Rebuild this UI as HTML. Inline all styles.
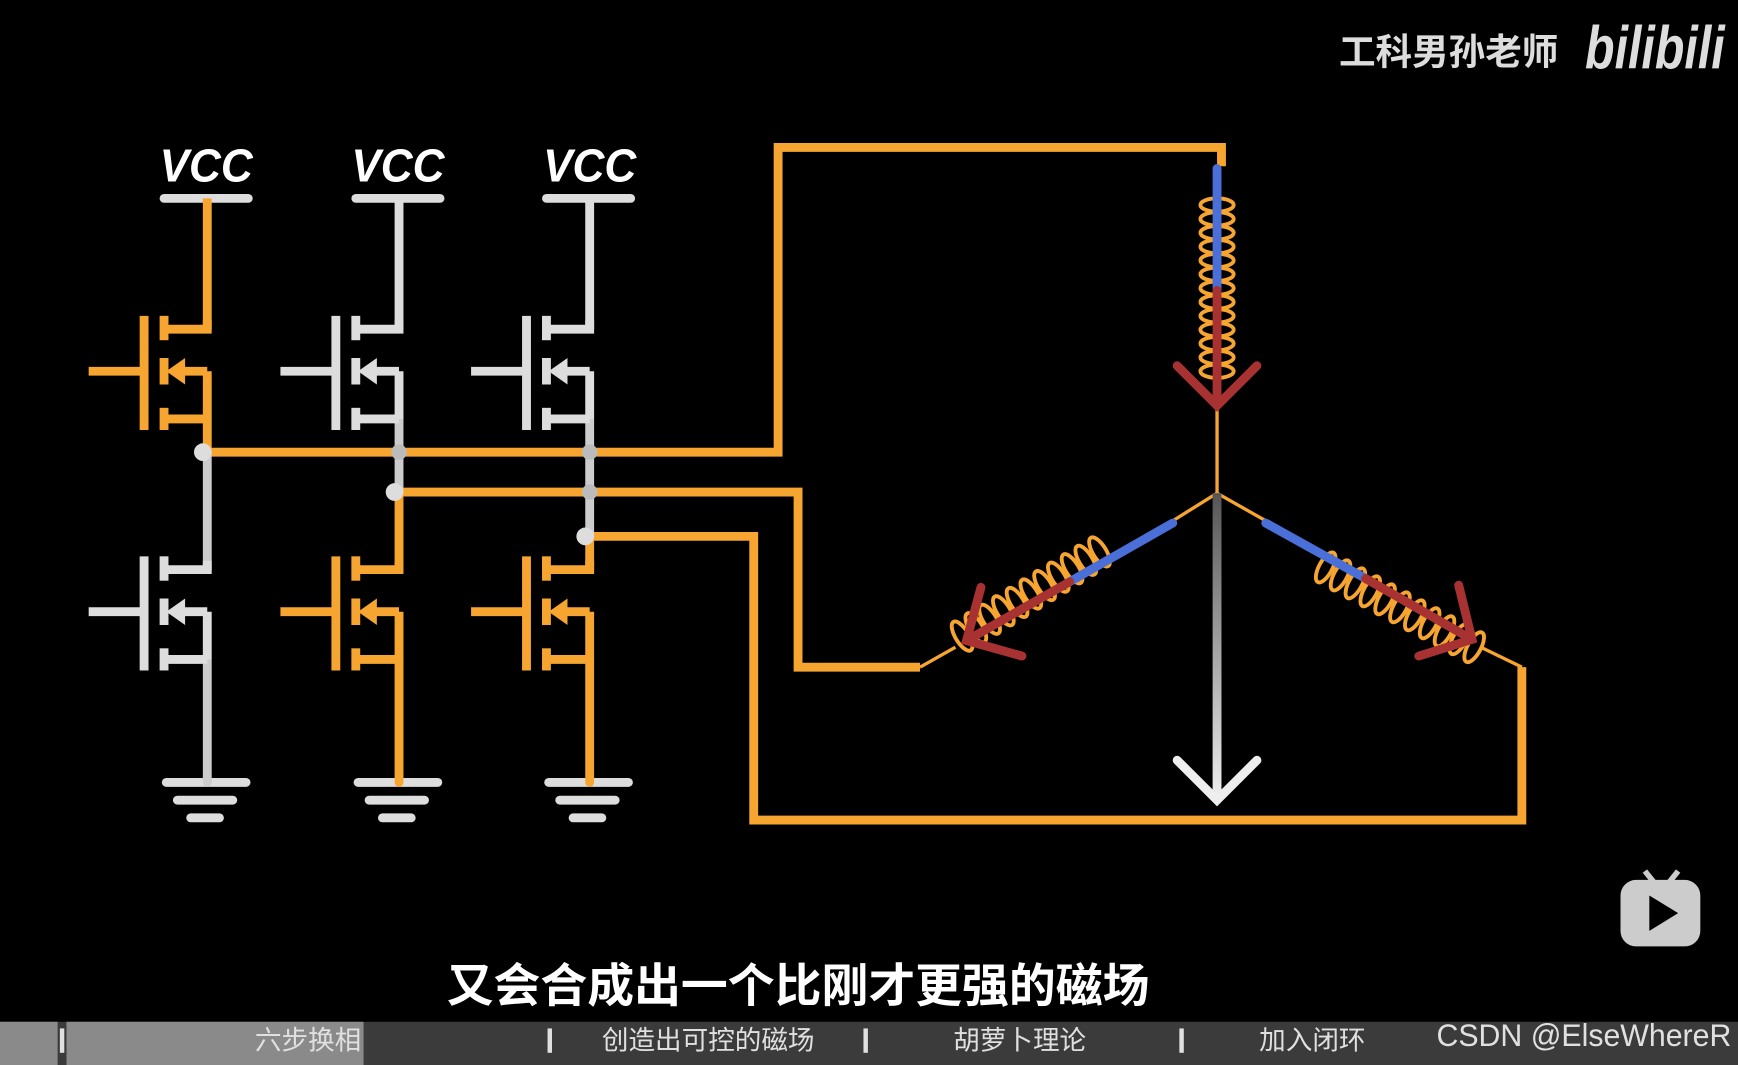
<!DOCTYPE html>
<html><head><meta charset="utf-8"><style>
html,body{margin:0;padding:0;background:#000;width:1738px;height:1065px;overflow:hidden}
svg{display:block}
</style></head><body>
<svg id="s" width="1738" height="1065" viewBox="0 0 1568 961" preserveAspectRatio="none" xmlns="http://www.w3.org/2000/svg">
<defs>
<linearGradient id="gv" gradientUnits="userSpaceOnUse" x1="0" y1="445" x2="0" y2="720"><stop offset="0" stop-color="#555"/><stop offset="1" stop-color="#eee"/></linearGradient>
</defs>
<rect width="1568" height="961" fill="#000"/>
<g font-family="Liberation Sans, sans-serif" font-weight="bold" font-style="italic" font-size="42" fill="#fff" text-anchor="middle">
<text x="186" y="164" textLength="84" lengthAdjust="spacingAndGlyphs">VCC</text><text x="359" y="164" textLength="84" lengthAdjust="spacingAndGlyphs">VCC</text><text x="532" y="164" textLength="84" lengthAdjust="spacingAndGlyphs">VCC</text>
</g>
<g stroke-width="8" stroke-linecap="round" fill="none">
<line x1="148" y1="179" x2="224" y2="179" stroke="#ddd"/>
<line x1="321" y1="179" x2="397" y2="179" stroke="#ddd"/>
<line x1="493" y1="179" x2="569" y2="179" stroke="#ddd"/>
<polyline points="187,408 702,408 702,133 1102,133 1102,150" stroke="#f7a531" stroke-linecap="butt"/>
<polyline points="360,444 720,444 720,602 830,602" stroke="#f7a531" stroke-linecap="butt"/>
<polyline points="532,484 680,484 680,740 1373,740 1373,602" stroke="#f7a531" stroke-linecap="butt"/>
<line x1="187" y1="378" x2="187" y2="408" stroke="#f7a531"/>
<line x1="187" y1="408" x2="187" y2="514" stroke="#ccc"/>
<line x1="360" y1="378" x2="360" y2="444" stroke="#ccc"/>
<line x1="360" y1="444" x2="360" y2="514" stroke="#f7a531"/>
<line x1="532" y1="378" x2="532" y2="484" stroke="#ccc"/>
<line x1="532" y1="484" x2="532" y2="514" stroke="#f7a531"/>
<g stroke="#ddd">
<line x1="150" y1="706" x2="222" y2="706"/><line x1="160" y1="722" x2="210" y2="722"/><line x1="172" y1="738" x2="198" y2="738"/>
<line x1="323" y1="706" x2="395" y2="706"/><line x1="333" y1="722" x2="383" y2="722"/><line x1="345" y1="738" x2="371" y2="738"/>
<line x1="495" y1="706" x2="567" y2="706"/><line x1="505" y1="722" x2="555" y2="722"/><line x1="517" y1="738" x2="543" y2="738"/>
</g>
<line x1="187" y1="595" x2="187" y2="706" stroke="#ccc"/>
<line x1="360" y1="595" x2="360" y2="706" stroke="#f7a531"/>
<line x1="532" y1="595" x2="532" y2="706" stroke="#f7a531"/>
</g>
<g id="fets"></g>
<g fill="#ddd">
<circle cx="183" cy="408" r="8"/><circle cx="356" cy="444" r="8"/><circle cx="528" cy="484" r="8"/>
<circle cx="360" cy="408" r="7" fill="#bbb"/><circle cx="532" cy="408" r="7" fill="#bbb"/><circle cx="532" cy="444" r="7" fill="#bbb"/>
</g>
<g stroke="#f7a531" stroke-width="3" fill="none">
<line x1="1098" y1="365" x2="1098" y2="445"/>
<line x1="1098" y1="445" x2="1058" y2="470"/>
<line x1="1098" y1="445" x2="1142" y2="470"/>
<line x1="830" y1="602" x2="862" y2="584"/>
<line x1="1373" y1="602" x2="1336" y2="584"/>
</g>
<rect x="1094" y="445" width="8" height="276" fill="url(#gv)"/>
<polyline points="1062,686 1098,722 1134,686" stroke="#eee" stroke-width="8" fill="none" stroke-linecap="round"/>
<g id="coils" stroke="#f7a531" stroke-width="3.5" fill="none"></g>
<g stroke-width="8" stroke-linecap="round" fill="none">
<line x1="1098" y1="152" x2="1098" y2="262" stroke="#4a6fd8"/>
<line x1="1098" y1="262" x2="1098" y2="364" stroke="#a83232"/>
<polyline points="1062,330 1098,366 1134,330" stroke="#a83232"/>
<line x1="1058" y1="472" x2="965" y2="525" stroke="#4a6fd8"/>
<line x1="965" y1="525" x2="872" y2="578" stroke="#a83232"/>
<polyline points="885,530 872,578 922,592" stroke="#a83232"/>
<line x1="1142" y1="472" x2="1232" y2="522" stroke="#4a6fd8"/>
<line x1="1232" y1="522" x2="1328" y2="577" stroke="#a83232"/>
<polyline points="1316,528 1328,577 1280,592" stroke="#a83232"/>
</g>
<text x="1208" y="58" font-family="Liberation Sans, Noto Sans CJK SC, sans-serif" font-weight="bold" font-size="33" fill="#ddd">工科男孙老师</text>
<text x="1430" y="62" font-family="Liberation Sans, sans-serif" font-weight="bold" font-style="italic" font-size="54" fill="#ddd" textLength="126" lengthAdjust="spacingAndGlyphs">bilibili</text>
<rect x="1462" y="794" width="72" height="60" rx="14" fill="#ccc"/>
<line x1="1484" y1="786" x2="1492" y2="796" stroke="#ccc" stroke-width="5"/><line x1="1514" y1="786" x2="1506" y2="796" stroke="#ccc" stroke-width="5"/>
<polygon points="1488,808 1488,840 1514,824" fill="#000"/>
<text x="720" y="904" text-anchor="middle" font-family="Liberation Sans, Noto Sans CJK SC, sans-serif" font-weight="bold" font-size="42" fill="#fff" textLength="634" lengthAdjust="spacingAndGlyphs">又会合成出一个比刚才更强的磁场</text>
<rect x="0" y="922" width="1568" height="39" fill="#3b3b3b"/>
<rect x="60" y="922" width="268" height="39" fill="#8a8a8a"/>
<rect x="0" y="922" width="52" height="39" fill="#8a8a8a"/>
<g fill="#e0e0e0" font-family="Liberation Sans, Noto Sans CJK SC, sans-serif" font-size="24">
<rect x="54" y="928" width="4" height="22"/><rect x="494" y="928" width="4" height="22"/><rect x="779" y="928" width="4" height="22"/><rect x="1064" y="928" width="4" height="22"/>
<text x="230" y="947">六步换相</text><text x="543" y="947">创造出可控的磁场</text><text x="860" y="947">胡萝卜理论</text><text x="1136" y="947">加入闭环</text>
<text x="1296" y="944" font-size="28" textLength="266" lengthAdjust="spacingAndGlyphs">CSDN @ElseWhereR</text>
</g>
</svg>
<script>
var NS="http://www.w3.org/2000/svg";
function el(p,t,a){var e=document.createElementNS(NS,t);for(var k in a)e.setAttribute(k,a[k]);p.appendChild(e);return e;}
var f=document.getElementById("fets");
function fet(x,yd,c){
 var g=el(f,"g",{stroke:c,"stroke-width":8,fill:"none","stroke-linecap":"butt"});
 var ys=yd+81, ym=yd+38;
 el(g,"line",{x1:x-107,y1:ym,x2:x-58,y2:ym});
 el(g,"line",{x1:x-57,y1:yd-12,x2:x-57,y2:ys+10});
 el(g,"line",{x1:x-39,y1:yd-12,x2:x-39,y2:yd+10});
 el(g,"line",{x1:x-39,y1:ym-12,x2:x-39,y2:ym+12});
 el(g,"line",{x1:x-39,y1:ys-10,x2:x-39,y2:ys+10});
 el(g,"polyline",{points:(x-39)+","+yd+" "+x+","+yd+" "+x+","+(yd-8)});
 el(g,"line",{x1:x-39,y1:ys,x2:x,y2:ys});
 el(g,"line",{x1:x-30,y1:ym,x2:x,y2:ym});
 el(g,"line",{x1:x,y1:ym,x2:x,y2:ys});
 el(f,"polygon",{points:(x-37)+","+ym+" "+(x-20)+","+(ym-12)+" "+(x-20)+","+(ym+12),fill:c});
}
fet(187,297,"#f7a531");fet(360,297,"#ddd");fet(532,297,"#ddd");
fet(187,514,"#ddd");fet(360,514,"#f7a531");fet(532,514,"#f7a531");
var g2=el(f,"g",{"stroke-width":8});
el(g2,"line",{x1:187,y1:179,x2:187,y2:297,stroke:"#f7a531"});
el(g2,"line",{x1:360,y1:179,x2:360,y2:297,stroke:"#ddd"});
el(g2,"line",{x1:532,y1:179,x2:532,y2:297,stroke:"#ddd"});
var cg=document.getElementById("coils");
function coil(x1,y1,x2,y2,n){
 var ang=Math.atan2(y2-y1,x2-x1)*180/Math.PI;
 for(var i=0;i<n;i++){var t=i/(n-1);var cx=x1+(x2-x1)*t,cy=y1+(y2-y1)*t;
  el(cg,"ellipse",{cx:cx,cy:cy,rx:6,ry:15,transform:"rotate("+ang+" "+cx+" "+cy+")"});}
}
coil(1098,185,1098,335,13);
coil(992,498,868,574,11);
coil(1196,512,1330,584,11);
</script>
</body></html>
